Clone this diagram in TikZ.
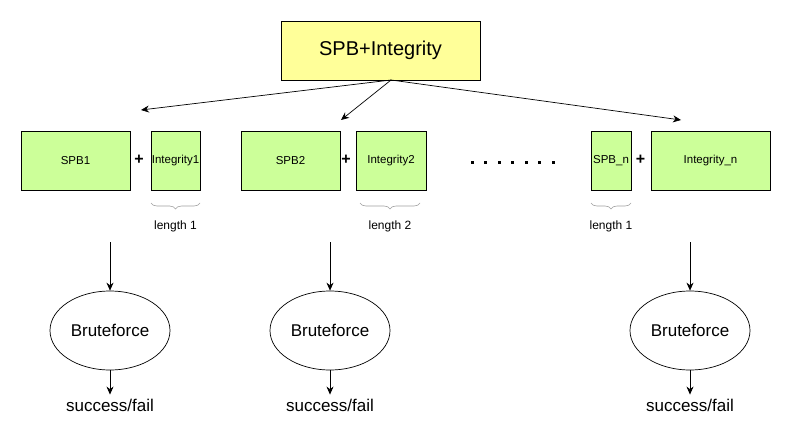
\documentclass[tikz,border=0pt]{standalone}
\usepackage{fontspec}
\setmainfont{Liberation Sans}
\usetikzlibrary{arrows.meta,decorations.pathreplacing,shapes.geometric}
\definecolor{boxgreen}{HTML}{CCFF99}
\definecolor{boxyellow}{HTML}{FFFF99}
\definecolor{bracegray}{HTML}{A0A0A0}

\begin{document}
\begin{tikzpicture}[x=1pt,y=1pt,
    every node/.style={inner sep=0pt},
    block/.style={draw=black, line width=0.8pt, fill=boxgreen, minimum height=59pt, font=\fontsize{11.5}{13}\selectfont},
    plus/.style={font=\bfseries\fontsize{16}{16}\selectfont},
    arr/.style={-{Stealth[length=8pt,width=7pt]}, line width=0.7pt},
    bf/.style={draw, ellipse, line width=0.7pt, minimum width=120pt, minimum height=79pt, font=\fontsize{17}{20}\selectfont},
    res/.style={inner sep=4pt, font=\fontsize{17}{20}\selectfont},
    brc/.style={draw=bracegray, line width=0.6pt, decorate, decoration={brace,mirror,amplitude=6pt}},
    lbl/.style={font=\fontsize{12}{14}\selectfont},
  ]
  \useasboundingbox[fill=white] (0,0) rectangle (791,-441);
  % top block
  \node [block, fill=boxyellow, minimum width=199pt, font=\fontsize{20}{23}\selectfont] (top) at (380.5,-50.5) {SPB+Integrity};
  % split blocks
  \node [block, minimum width=109pt] (spb1) at (75.5,-160.5) {SPB1};
  \node [plus] (p1) at (139,-160) {+};
  \node [block, minimum width=49pt] (int1) at (175.5,-160.5) {Integrity1};
  \node [block, minimum width=99pt] (spb2) at (290.5,-160.5) {SPB2};
  \node [plus] (p2) at (346,-160) {+};
  \node [block, minimum width=70pt] (int2) at (391,-160.5) {Integrity2};
  \node [block, minimum width=40pt] (spbn) at (611,-160.5) {SPB\_n};
  \node [plus] (pn) at (640.5,-160) {+};
  \node [block, minimum width=119pt] (intn) at (710.5,-160.5) {Integrity\_n};
  \foreach \i in {0,...,6}
    \fill (470.5+13.5*\i,-160.5) rectangle ++(3,-3);
  % lengths
  \draw [brc] (151,-203) -- (200,-203);
  \node [lbl] (len1) at (175.5,-226) {length 1};
  \draw [brc] (360,-203) -- (420,-203);
  \node [lbl] (len2) at (390,-226) {length 2};
  \draw [brc] (591,-203) -- (631,-203);
  \node [lbl] (lenn) at (611,-226) {length 1};
  % arrows from the top block
  \coordinate (src) at (391,-80);
  \coordinate (t1) at (141,-110);
  \coordinate (t2) at (341,-120);
  \coordinate (tn) at (681,-120);
  \draw [arr] (src) -- (t1);
  \draw [arr] (src) -- (t2);
  \draw [arr] (src) -- (tn);
  % bruteforce
  \coordinate (s1) at (110,-242);
  \coordinate (s2) at (330,-242);
  \coordinate (sn) at (690,-242);
  \node [bf] (bf1) at (110,-330.5) {Bruteforce};
  \node [bf] (bf2) at (330,-330.5) {Bruteforce};
  \node [bf] (bfn) at (690,-330.5) {Bruteforce};
  \node [res] (res1) at (110,-405) {success/fail};
  \node [res] (res2) at (330,-405) {success/fail};
  \node [res] (resn) at (690,-405) {success/fail};
  \draw [arr] (s1) -- (bf1);
  \draw [arr] (s2) -- (bf2);
  \draw [arr] (sn) -- (bfn);
  \draw [arr] (bf1) -- (res1);
  \draw [arr] (bf2) -- (res2);
  \draw [arr] (bfn) -- (resn);
\end{tikzpicture}
\end{document}
